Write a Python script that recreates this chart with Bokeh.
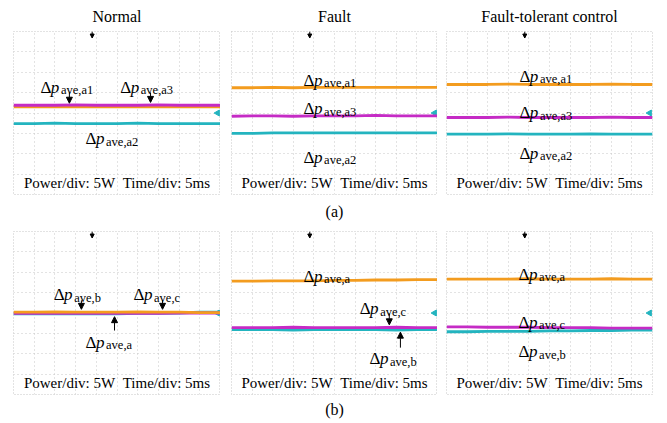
import numpy as np
from bokeh.plotting import figure
from bokeh.layouts import column, row
from bokeh.models import Range1d, FixedTicker, Label, Arrow, NormalHead, Title
from bokeh.embed import file_html
from bokeh.resources import INLINE

# ---------------- data (time in ms, power in W; 5 W/div, 5 ms/div) ----------------
t_ms = [0, 5, 10, 15, 20, 25, 30, 35, 40, 45, 50]

# (a) arm a powers
normal_a1 = [1.5, 1.5, 1.6, 1.5, 1.5, 1.6, 1.5, 1.5, 1.5, 1.6, 1.5]
normal_a3 = [1.9, 1.9, 1.9, 2.0, 1.9, 1.9, 1.9, 2.0, 1.9, 1.9, 1.9]
normal_a2 = [-2.6, -2.6, -2.5, -2.6, -2.6, -2.6, -2.5, -2.6, -2.6, -2.6, -2.6]

fault_a1 = [6.2, 6.2, 6.3, 6.2, 6.3, 6.3, 6.3, 6.3, 6.3, 6.3, 6.3]
fault_a3 = [-0.8, -0.7, -0.7, -0.8, -0.7, -0.7, -0.7, -0.6, -0.7, -0.7, -0.7]
fault_a2 = [-5.0, -5.0, -4.9, -4.9, -4.9, -4.9, -4.9, -4.9, -4.9, -4.9, -4.9]

ftc_a1 = [7.0, 7.0, 7.0, 7.1, 7.0, 7.0, 7.0, 7.0, 7.1, 7.0, 7.0]
ftc_a3 = [-1.1, -1.1, -1.1, -1.0, -1.1, -1.1, -1.1, -1.1, -1.0, -1.1, -1.1]
ftc_a2 = [-5.2, -5.2, -5.2, -5.1, -5.2, -5.2, -5.2, -5.1, -5.2, -5.2, -5.2]

# (b) phase-unit powers
normal_a = [0.2, 0.2, 0.3, 0.2, 0.2, 0.2, 0.3, 0.2, 0.2, 0.1, 0.1]
normal_c = [-0.1, -0.1, 0.0, -0.1, -0.1, 0.0, -0.1, -0.1, 0.0, 0.0, 0.0]
normal_b = [-0.2, -0.2, -0.2, -0.2, -0.2, -0.2, -0.1, -0.1, 0.0, 0.2, 0.2]

fault_a = [7.8, 7.8, 7.9, 7.9, 7.9, 8.0, 8.0, 8.1, 8.1, 8.2, 8.2]
fault_c = [-3.6, -3.6, -3.6, -3.5, -3.6, -3.6, -3.6, -3.6, -3.5, -3.6, -3.6]
fault_b = [-4.1, -4.1, -4.1, -4.2, -4.1, -4.1, -4.1, -4.1, -4.2, -4.1, -4.1]

ftc_a = [8.3, 8.3, 8.3, 8.3, 8.4, 8.3, 8.3, 8.3, 8.4, 8.3, 8.3]
ftc_c = [-3.4, -3.4, -3.5, -3.5, -3.5, -3.6, -3.6, -3.6, -3.7, -3.7, -3.7]
ftc_b = [-4.6, -4.6, -4.5, -4.5, -4.5, -4.4, -4.4, -4.3, -4.3, -4.2, -4.2]

col_titles = ["Normal", "Fault", "Fault-tolerant control"]
row_tags = ["(a)", "(b)"]
scale_text = "Power/div: 5W\u00a0\u00a0Time/div: 5ms"

# ---------------- styles ----------------
SERIF = "Times New Roman"
ORANGE = "#F39C1F"
MAGENTA = "#C52BC5"
CYAN = "#23B4BF"
GRIDC = "#c6c6c6"


def make_panel(width, height, bl, br, bt, bb, title_text=None):
    p = figure(width=width, height=height,
               x_range=Range1d(0, 50), y_range=Range1d(-20, 20),
               x_axis_location=None, y_axis_location=None,
               toolbar_location=None, output_backend="svg",
               min_border_left=bl, min_border_right=br,
               min_border_top=bt, min_border_bottom=bb,
               title=None)
    p.background_fill_color = "white"
    p.border_fill_color = "white"
    p.outline_line_color = GRIDC
    p.outline_line_dash = "1 2"
    p.outline_line_width = 1
    p.xgrid.ticker = FixedTicker(ticks=[5, 10, 15, 20, 25, 30, 35, 40, 45])
    p.ygrid.ticker = FixedTicker(ticks=[-15, -10, -5, 0, 5, 10, 15])
    for g in (p.xgrid, p.ygrid):
        g.grid_line_color = GRIDC
        g.grid_line_dash = "1 3"
        g.grid_line_width = 1
    if title_text:
        p.add_layout(Title(text=title_text, align="center", text_font=SERIF,
                           text_font_size="16px", text_font_style="normal",
                           text_color="black", vertical_align="top"), "above")
    # trigger marker (top) and ground marker (right)
    p.add_layout(Arrow(x_start=19, y_start=20, x_end=19, y_end=18.4,
                       line_color="black", line_width=1,
                       end=NormalHead(size=4, fill_color="black", line_color="black")))
    p.scatter(x=[49.3], y=[0], marker="triangle", angle=np.pi / 2, size=6,
              fill_color=CYAN, line_color=CYAN)
    p.add_layout(Label(x=25, y=-17.3, text=scale_text, text_font=SERIF,
                       text_font_size="15px", text_align="center",
                       text_baseline="alphabetic", text_color="black"))
    return p


def traces(p, series):
    for vals, color in series:
        p.line(t_ms, vals, line_color=color, line_width=2.8)


def dp_label(p, x, y, sub):
    kw = dict(x=x, y=y, text_font=SERIF, text_color="black",
              text_baseline="alphabetic", text_align="left")
    p.add_layout(Label(text="\u0394", text_font_size="17px", **kw))
    p.add_layout(Label(text="p", text_font_size="17px", text_font_style="italic",
                       x_offset=10.4, **kw))
    p.add_layout(Label(text=sub, text_font_size="12.5px", x_offset=20.5,
                       y_offset=-3, **kw))


def arrow(p, x, y0, y1):
    p.add_layout(Arrow(x_start=x, y_start=y0, x_end=x, y_end=y1,
                       line_color="black", line_width=1,
                       end=NormalHead(size=6, fill_color="black", line_color="black")))


# column geometry: (width, left border, right border)
cols = [(220, 13, 0), (217, 11, 0), (230, 9, 15)]

# ---------------- row (a) ----------------
pa = [make_panel(w, 231, bl, br, 31, 37, col_titles[i]) for i, (w, bl, br) in enumerate(cols)]
pa[1].add_layout(Title(text=row_tags[0], align="center", text_font=SERIF,
                       text_font_size="16px", text_font_style="normal",
                       text_color="black", standoff=12), "below")

traces(pa[0], [(normal_a2, CYAN), (normal_a1, ORANGE), (normal_a3, MAGENTA)])
dp_label(pa[0], 6.5, 6.3, "ave,a1")
dp_label(pa[0], 25.8, 6.3, "ave,a3")
dp_label(pa[0], 17.4, -6.3, "ave,a2")
arrow(pa[0], 13.5, 5.0, 2.4)
arrow(pa[0], 33.1, 5.0, 2.6)

traces(pa[1], [(fault_a2, CYAN), (fault_a3, MAGENTA), (fault_a1, ORANGE)])
dp_label(pa[1], 17.5, 8.0, "ave,a1")
dp_label(pa[1], 17.5, 1.1, "ave,a3")
dp_label(pa[1], 17.5, -10.9, "ave,a2")

traces(pa[2], [(ftc_a2, CYAN), (ftc_a3, MAGENTA), (ftc_a1, ORANGE)])
dp_label(pa[2], 17.7, 9.0, "ave,a1")
dp_label(pa[2], 17.7, 0.1, "ave,a3")
dp_label(pa[2], 17.7, -9.9, "ave,a2")

# ---------------- row (b) ----------------
pb = [make_panel(w, 192, bl, br, 0, 29) for (w, bl, br) in cols]
pb[1].add_layout(Title(text=row_tags[1], align="center", text_font=SERIF,
                       text_font_size="16px", text_font_style="normal",
                       text_color="black", standoff=8), "below")

traces(pb[0], [(normal_b, CYAN), (normal_c, MAGENTA), (normal_a, ORANGE)])
dp_label(pb[0], 9.7, 4.5, "ave,b")
dp_label(pb[0], 29.0, 4.5, "ave,c")
dp_label(pb[0], 17.4, -7.2, "ave,a")
arrow(pb[0], 16.4, 3.1, 0.9)
arrow(pb[0], 36.0, 3.1, 0.9)
arrow(pb[0], 24.4, -4.3, -0.9)

traces(pb[1], [(fault_b, CYAN), (fault_c, MAGENTA), (fault_a, ORANGE)])
dp_label(pb[1], 17.5, 9.0, "ave,a")
dp_label(pb[1], 31.1, 1.1, "ave,c")
dp_label(pb[1], 33.5, -11.2, "ave,b")
arrow(pb[1], 38.3, -0.1, -2.9)
arrow(pb[1], 41.0, -8.5, -4.7)

traces(pb[2], [(ftc_b, CYAN), (ftc_c, MAGENTA), (ftc_a, ORANGE)])
dp_label(pb[2], 17.5, 9.45, "ave,a")
dp_label(pb[2], 17.5, -2.3, "ave,c")
dp_label(pb[2], 17.5, -9.45, "ave,b")

layout = column(row(*pa, spacing=0), row(*pb, spacing=0), spacing=0)

open("out.html", "w").write(file_html(layout, INLINE))
